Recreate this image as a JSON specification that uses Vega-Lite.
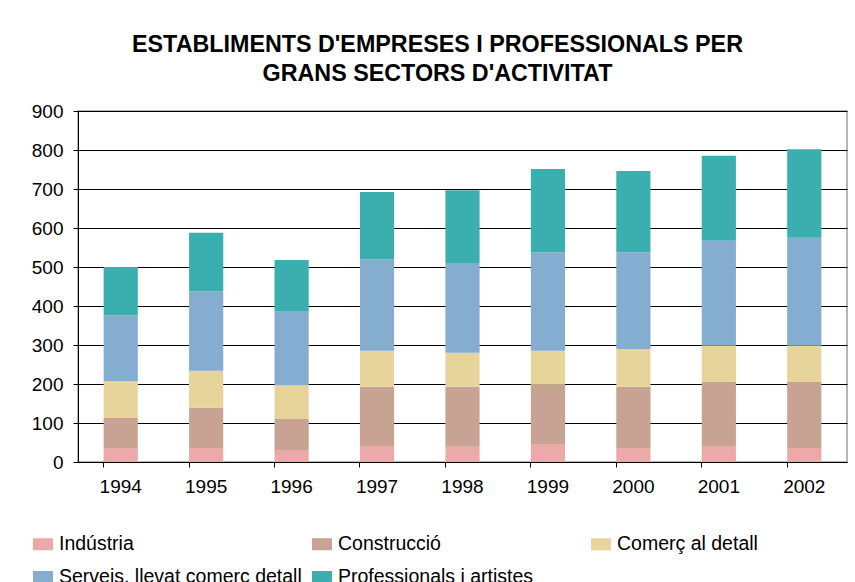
{
  "$schema": "https://vega.github.io/schema/vega-lite/v6.json",
  "autosize": {"type": "none"},
  "padding": {"left": 78, "top": 111, "right": 8, "bottom": 120},
  "width": 769,
  "height": 351,
  "background": "white",
  "title": {
    "text": ["ESTABLIMENTS D'EMPRESES I PROFESSIONALS PER", "GRANS SECTORS D'ACTIVITAT"],
    "anchor": "middle",
    "dx": -25,
    "offset": 16,
    "font": "Liberation Sans",
    "fontSize": 23.3,
    "fontWeight": "bold",
    "lineHeight": 29,
    "color": "#000000"
  },
  "config": {
    "view": {"stroke": "#a0a0a0", "strokeWidth": 1.5},
    "font": "Liberation Sans",
    "axis": {
      "labelFont": "Liberation Sans",
      "labelFontSize": 19,
      "labelColor": "#000000",
      "domainColor": "#000000",
      "tickColor": "#000000",
      "tickSize": 5,
      "labelPadding": 10
    }
  },
  "data": {
    "values": [
      {"year": "1994", "sector": "Indústria", "value": 36},
      {"year": "1994", "sector": "Construcció", "value": 77},
      {"year": "1994", "sector": "Comerç al detall", "value": 95},
      {"year": "1994", "sector": "Serveis, llevat comerç detall", "value": 168},
      {"year": "1994", "sector": "Professionals i artistes", "value": 124},
      {"year": "1995", "sector": "Indústria", "value": 36},
      {"year": "1995", "sector": "Construcció", "value": 103},
      {"year": "1995", "sector": "Comerç al detall", "value": 95},
      {"year": "1995", "sector": "Serveis, llevat comerç detall", "value": 204},
      {"year": "1995", "sector": "Professionals i artistes", "value": 150},
      {"year": "1996", "sector": "Indústria", "value": 31},
      {"year": "1996", "sector": "Construcció", "value": 79},
      {"year": "1996", "sector": "Comerç al detall", "value": 87},
      {"year": "1996", "sector": "Serveis, llevat comerç detall", "value": 190},
      {"year": "1996", "sector": "Professionals i artistes", "value": 131},
      {"year": "1997", "sector": "Indústria", "value": 41},
      {"year": "1997", "sector": "Construcció", "value": 152},
      {"year": "1997", "sector": "Comerç al detall", "value": 92},
      {"year": "1997", "sector": "Serveis, llevat comerç detall", "value": 235},
      {"year": "1997", "sector": "Professionals i artistes", "value": 172},
      {"year": "1998", "sector": "Indústria", "value": 41},
      {"year": "1998", "sector": "Construcció", "value": 152},
      {"year": "1998", "sector": "Comerç al detall", "value": 87},
      {"year": "1998", "sector": "Serveis, llevat comerç detall", "value": 230},
      {"year": "1998", "sector": "Professionals i artistes", "value": 187},
      {"year": "1999", "sector": "Indústria", "value": 46},
      {"year": "1999", "sector": "Construcció", "value": 152},
      {"year": "1999", "sector": "Comerç al detall", "value": 87},
      {"year": "1999", "sector": "Serveis, llevat comerç detall", "value": 253},
      {"year": "1999", "sector": "Professionals i artistes", "value": 213},
      {"year": "2000", "sector": "Indústria", "value": 36},
      {"year": "2000", "sector": "Construcció", "value": 157},
      {"year": "2000", "sector": "Comerç al detall", "value": 97},
      {"year": "2000", "sector": "Serveis, llevat comerç detall", "value": 248},
      {"year": "2000", "sector": "Professionals i artistes", "value": 208},
      {"year": "2001", "sector": "Indústria", "value": 41},
      {"year": "2001", "sector": "Construcció", "value": 164},
      {"year": "2001", "sector": "Comerç al detall", "value": 93},
      {"year": "2001", "sector": "Serveis, llevat comerç detall", "value": 269},
      {"year": "2001", "sector": "Professionals i artistes", "value": 218},
      {"year": "2002", "sector": "Indústria", "value": 36},
      {"year": "2002", "sector": "Construcció", "value": 169},
      {"year": "2002", "sector": "Comerç al detall", "value": 93},
      {"year": "2002", "sector": "Serveis, llevat comerç detall", "value": 277},
      {"year": "2002", "sector": "Professionals i artistes", "value": 227}
    ]
  },
  "transform": [
    {"calculate": "indexof(['Indústria', 'Construcció', 'Comerç al detall', 'Serveis, llevat comerç detall', 'Professionals i artistes'], datum.sector)", "as": "stackOrder"}
  ],
  "mark": {"type": "bar"},
  "encoding": {
    "x": {
      "field": "year",
      "type": "ordinal",
      "scale": {"paddingInner": 0.6, "paddingOuter": 0.3},
      "axis": {"title": null, "labelAngle": 0, "bandPosition": 0, "grid": false}
    },
    "y": {
      "field": "value",
      "type": "quantitative",
      "stack": "zero",
      "scale": {"domain": [0, 900]},
      "axis": {
        "title": null,
        "values": [0, 100, 200, 300, 400, 500, 600, 700, 800, 900],
        "grid": true,
        "gridColor": "#000000",
        "gridOpacity": 1
      }
    },
    "order": {"field": "stackOrder", "type": "quantitative", "sort": "ascending"},
    "color": {
      "field": "sector",
      "type": "nominal",
      "sort": ["Indústria", "Construcció", "Comerç al detall", "Serveis, llevat comerç detall", "Professionals i artistes"],
      "scale": {
        "domain": ["Indústria", "Construcció", "Comerç al detall", "Serveis, llevat comerç detall", "Professionals i artistes"],
        "range": ["#EBA9A9", "#C8A293", "#E7D49B", "#85ADCF", "#3BAEB0"]
      },
      "legend": {
        "title": null,
        "orient": "none",
        "legendX": -45,
        "legendY": 423,
        "direction": "horizontal",
        "columns": 3,
        "gridAlign": "all",
        "columnPadding": 10,
        "rowPadding": 13,
        "symbolType": "M-1,-0.6H1V0.6H-1Z",
        "symbolSize": 400,
        "symbolStrokeWidth": 0,
        "symbolOpacity": 1,
        "labelFont": "Liberation Sans",
        "labelFontSize": 19.5,
        "labelColor": "#000000",
        "labelOffset": 6,
        "labelLimit": 400
      }
    }
  }
}
